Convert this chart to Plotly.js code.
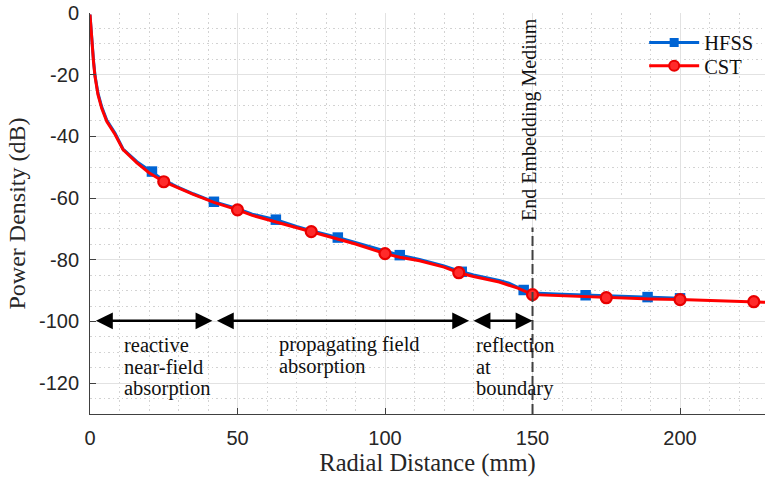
<!DOCTYPE html>
<html>
<head>
<meta charset="utf-8">
<script src="https://cdn.plot.ly/plotly-3.0.1.min.js"></script>
<style>html,body{margin:0;padding:0;background:#fff;}#chart{width:765px;height:477px;}</style>
</head>
<body>
<div id="chart"></div>
<script>
// ---- data ----
const hfssX = [0, 0.3, 0.7, 1.2, 1.7, 2.7, 4, 5.7, 8.5, 11.2, 15.9, 21, 25, 29.4, 35, 42, 47.4, 50, 55, 63, 70, 75, 84, 90, 95, 100, 105, 111.7, 116, 120, 126, 130, 138.7, 142, 147, 150, 160, 168, 175, 189, 200];
const hfssY = [-0.5, -5, -10.3, -15.5, -20.3, -26, -30.5, -34.8, -39, -44.1, -48.2, -51.4, -54.2, -56.3, -58.6, -61.2, -62.6, -63.4, -65.2, -67.0, -69.2, -70.6, -72.8, -74.4, -75.9, -77.2, -78.5, -79.9, -80.9, -82.0, -83.9, -84.9, -86.7, -87.6, -89.8, -90.8, -91.2, -91.5, -91.7, -92.1, -92.5];
const hfssMarkerX = [21, 42, 63, 84, 105, 126, 147, 168, 189, 200];

const cstX = [0, 0.3, 0.7, 1.2, 1.7, 2.7, 4, 5.7, 8.5, 11.2, 15.9, 20, 25, 29.4, 35, 42, 47.4, 50, 55, 62.5, 70, 75, 84, 90, 100, 105, 111.7, 116, 120, 125, 130, 138.7, 145, 150, 160, 175, 190, 200, 215, 225, 230];
const cstY = [-0.5, -5, -10.5, -16, -20.6, -26.5, -31, -35.2, -39.4, -44.3, -48.6, -51.8, -54.7, -56.6, -58.8, -61.4, -63, -63.8, -65.6, -67.6, -69.5, -70.9, -73.4, -74.9, -78.0, -79.2, -80.3, -81.3, -82.4, -84.2, -85.4, -87.2, -89.2, -91.3, -91.7, -92.3, -92.7, -92.9, -93.3, -93.6, -93.8];
const cstMarkerX = [25, 50, 75, 100, 125, 150, 175, 200, 225];

const seriesNames = ["HFSS", "CST"];
const yTickVals = [0, -20, -40, -60, -80, -100, -120];
const yTickText = ["0", "-20", "-40", "-60", "-80", "-100", "-120"];
const xTickVals = [0, 50, 100, 150, 200];
const xTickText = ["0", "50", "100", "150", "200"];

const boundaryX = 150;
const boundaryLabel = "End Embedding Medium";
const regionSpans = [[1.5, 41.5], [42.5, 128.5], [129.5, 150]];
const regionLabels = [["reactive", "near-field", "absorption"], ["propagating field", "absorption"], ["reflection", "at", "boundary"]];

// ---- helpers ----
function pick(xs, ys, wanted) {
  return wanted.map(w => ys[xs.indexOf(w)]);
}

const BLUE = "#0064d4";
const RED = "#ff0000";
const SERIF = "Liberation Serif, Times New Roman, serif";
const SANS = "Liberation Sans, Arial, sans-serif";

const hfssMarker = {symbol: "square", size: 10.5, color: BLUE};
const cstMarker = {symbol: "circle", size: 11, color: "#ff2a2a", line: {width: 2.2, color: "#e80000"}};

const traces = [
  {x: hfssX, y: hfssY, mode: "lines", line: {color: BLUE, width: 3}, showlegend: false, hoverinfo: "skip"},
  {x: hfssMarkerX, y: pick(hfssX, hfssY, hfssMarkerX), mode: "markers", marker: hfssMarker, showlegend: false},
  {x: cstX, y: cstY, mode: "lines", line: {color: RED, width: 3}, showlegend: false, hoverinfo: "skip"},
  {x: cstMarkerX, y: pick(cstX, cstY, cstMarkerX), mode: "markers", marker: cstMarker, showlegend: false},
  // legend entries
  {x: [null], y: [null], name: seriesNames[0], mode: "lines+markers", legend: "legend",
   line: {color: BLUE, width: 3}, marker: {symbol: "square", size: 9, color: BLUE}},
  {x: [null], y: [null], name: seriesNames[1], mode: "lines+markers", legend: "legend2",
   line: {color: RED, width: 3}, marker: {symbol: "circle", size: 10, color: "#ff2a2a", line: {width: 2, color: "#e80000"}}}
];

const annotations = [];
regionSpans.forEach(s => {
  annotations.push({
    x: s[1], y: -99.8, ax: s[0], ay: -99.8, axref: "x", ayref: "y", xref: "x", yref: "y",
    text: "", showarrow: true, arrowside: "end+start", arrowhead: 2, arrowsize: 1.35,
    arrowwidth: 2.5, arrowcolor: "#000", standoff: 0, startstandoff: 0
  });
});
const labelX = [11.0, 63.4, 130];
regionLabels.forEach((lines, i) => {
  lines.forEach((t, j) => {
    annotations.push({
      x: labelX[i], y: -107.5, xref: "x", yref: "y", xanchor: "left", yanchor: "middle",
      yshift: -22 * j, text: t, showarrow: false,
      font: {family: SERIF, size: 20.5, color: "#111"}
    });
  });
});
annotations.push({
  x: boundaryX, y: -34.5, xref: "x", yref: "y", text: boundaryLabel, textangle: -90,
  showarrow: false, xshift: -3, font: {family: SERIF, size: 20, color: "#111"}
});

const legendBase = {xanchor: "left", yanchor: "top", bgcolor: "rgba(0,0,0,0)",
  borderwidth: 0, font: {family: SERIF, size: 20.5, color: "#111"}, itemwidth: 50};

const layout = {
  width: 765, height: 477,
  margin: {l: 90, r: 0, t: 13, b: 63},
  paper_bgcolor: "#fff", plot_bgcolor: "#fff",
  showlegend: true,
  legend: Object.assign({x: 0.821, y: 0.976}, legendBase),
  legend2: Object.assign({x: 0.821, y: 0.918}, legendBase),
  xaxis: {
    range: [0, 228.8], tickvals: xTickVals, ticktext: xTickText,
    ticks: "inside", ticklen: 6, tickcolor: "#404040", tickwidth: 1,
    showline: true, linecolor: "#404040", linewidth: 1, mirror: false, zeroline: false,
    showgrid: true, gridcolor: "#e2e2e2", gridwidth: 1,
    minor: {dtick: 10, tick0: 0, showgrid: true, gridcolor: "#d2d2d2", griddash: "1.5px,3px", ticks: ""},
    tickfont: {family: SANS, size: 20, color: "#262626"}, ticklabelstandoff: 6,
    title: {text: "Radial Distance (mm)", font: {family: SERIF, size: 24.5, color: "#262626"}, standoff: 6}
  },
  yaxis: {
    range: [-130, 0], tickvals: yTickVals, ticktext: yTickText,
    ticks: "inside", ticklen: 6, tickcolor: "#404040", tickwidth: 1,
    showline: true, linecolor: "#404040", linewidth: 1, mirror: false, zeroline: false,
    showgrid: true, gridcolor: "#e2e2e2", gridwidth: 1,
    minor: {dtick: 5, tick0: 0, showgrid: true, gridcolor: "#d2d2d2", griddash: "1.5px,3px", ticks: ""},
    tickfont: {family: SANS, size: 20, color: "#262626"}, ticklabelstandoff: 6,
    title: {text: "Power Density (dB)", font: {family: SERIF, size: 24, color: "#262626"}, standoff: 6}
  },
  shapes: [{
    type: "line", xref: "x", yref: "y", x0: boundaryX, x1: boundaryX, y0: -130, y1: -69.5,
    line: {color: "#404040", width: 2, dash: "10px,4px"}
  }],
  annotations: annotations
};

Plotly.newPlot("chart", traces, layout, {displayModeBar: false, staticPlot: true});
</script>
</body>
</html>
